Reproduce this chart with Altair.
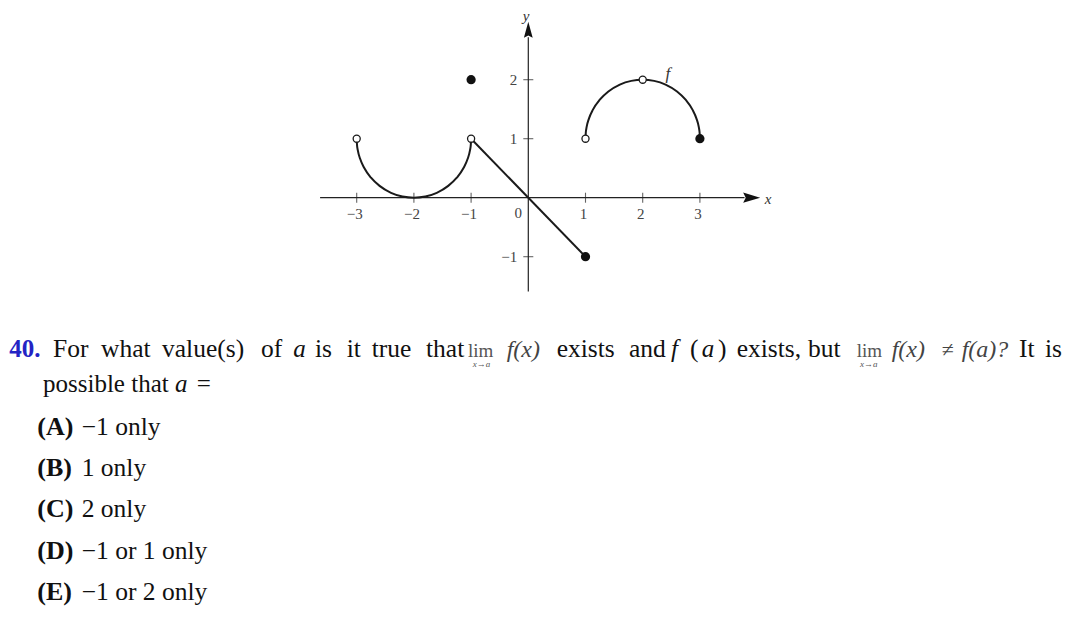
import altair as alt
import pandas as pd

# ---------------- graph data ----------------
arc1_x = [-3, -2.995, -2.98, -2.94, -2.87, -2.75, -2.6, -2.4, -2.2, -2.0,
          -1.8, -1.6, -1.4, -1.25, -1.13, -1.06, -1.02, -1.005, -1]
arc1_y = [1, 0.9, 0.801, 0.659, 0.507, 0.339, 0.2, 0.083, 0.02, 0,
          0.02, 0.083, 0.2, 0.339, 0.507, 0.659, 0.801, 0.9, 1]
arc2_x = [1, 1.005, 1.02, 1.06, 1.13, 1.25, 1.4, 1.6, 1.8, 2.0,
          2.2, 2.4, 2.6, 2.75, 2.87, 2.94, 2.98, 2.995, 3]
arc2_y = [1, 1.1, 1.199, 1.341, 1.493, 1.661, 1.8, 1.917, 1.98, 2,
          1.98, 1.917, 1.8, 1.661, 1.493, 1.341, 1.199, 1.1, 1]
seg_x = [-1, 1]
seg_y = [1, -1]
open_x = [-3, -1, 1, 2]
open_y = [1, 1, 1, 2]
closed_x = [-1, 1, 3]
closed_y = [2, -1, 1]
x_ticks = [-3, -2, -1, 1, 2, 3]
x_tick_labels = ["\u22123", "\u22122", "\u22121", "1", "2", "3"]
y_ticks = [-1, 1, 2]
y_tick_labels = ["\u22121", "1", "2"]
x_axis_ext = [-3.64, 3.78]
y_axis_ext = [-1.59, 2.72]

# ---------------- question text ----------------
q_number = "40."
line1_words = ["For", "what", "value(s)", "of", "is", "it", "true", "that",
               "exists", "and", "(", ")", "exists,", "but", "It", "is"]
line1_x = [53, 101, 162, 261, 315, 346.7, 371.7, 426,
           556.7, 629, 690, 718, 736.7, 808, 1019, 1045]
line1_italic = ["a", "f", "a"]
line1_italic_x = [293.3, 671, 701.7]
lim_x = [468, 856.7]
sub_x = [472.7, 860]
fx_words = ["f(x)", "f(x)", "f(a)?"]
fx_x = [506.7, 891.7, 961.7]
neq_x = [941.7]
line2_text = "possible that"
option_labels = ["(A)", "(B)", "(C)", "(D)", "(E)"]
option_texts = ["\u22121 only", "1 only", "2 only", "\u22121 or 1 only", "\u22121 or 2 only"]
option_baselines = [435, 475.5, 517.3, 559, 599.5]

# ---------------- geometry of the canvas ----------------
W, H = 1055, 603
UX, UY = 57.2, 59.0
X0, Y0 = 520.3, 189.7     # pixel position of the origin inside the chart
XMIN = -X0 / UX
XMAX = XMIN + W / UX
YMAX = Y0 / UY
YMIN = YMAX - H / UY
xs = alt.Scale(domain=[XMIN, XMAX], nice=False, zero=False)
ys = alt.Scale(domain=[YMIN, YMAX], nice=False, zero=False)
SERIF = "Liberation Serif"


def X(f="x"):
    return alt.X(f"{f}:Q", scale=xs, axis=None)


def Y(f="y"):
    return alt.Y(f"{f}:Q", scale=ys, axis=None)


# axes
axes_df = pd.DataFrame({
    "x": [x_axis_ext[0], 0], "x2": [x_axis_ext[1], 0],
    "y": [0, y_axis_ext[0]], "y2": [0, y_axis_ext[1]],
})
axes = alt.Chart(axes_df).mark_rule(color="#222", strokeWidth=1.2).encode(
    x=X(), x2="x2:Q", y=Y(), y2="y2:Q")

arrow_x = alt.Chart(pd.DataFrame({"x": [3.905], "y": [0]})).mark_point(
    shape="M-1,-0.6L1,0L-1,0.6L-0.7,0Z", size=289, filled=True,
    color="#111", opacity=1).encode(x=X(), y=Y())
arrow_y = alt.Chart(pd.DataFrame({"x": [0], "y": [2.846]})).mark_point(
    shape="M-0.55,1L0,-1L0.55,1L0,0.7Z", size=256, filled=True,
    color="#111", opacity=1).encode(x=X(), y=Y())

xt = alt.Chart(pd.DataFrame({"x": x_ticks, "y": [0] * len(x_ticks),
                             "t": x_tick_labels}))
xtick_marks = xt.mark_tick(orient="vertical", size=10, thickness=1.1,
                           color="#222").encode(x=X(), y=Y())
xtick_text = xt.mark_text(font=SERIF, fontSize=15, color="#444",
                          baseline="middle", align="center", dy=16,
                          dx=-2).encode(x=X(), y=Y(), text="t:N")
yt = alt.Chart(pd.DataFrame({"x": [0] * len(y_ticks), "y": y_ticks,
                             "t": y_tick_labels}))
ytick_marks = yt.mark_tick(orient="horizontal", size=10, thickness=1.1,
                           color="#222").encode(x=X(), y=Y())
ytick_text = yt.mark_text(font=SERIF, fontSize=15, color="#444",
                          baseline="middle", align="right", dx=-11).encode(
    x=X(), y=Y(), text="t:N")
zero_text = alt.Chart(pd.DataFrame({"x": [0], "y": [0], "t": ["0"]})).mark_text(
    font=SERIF, fontSize=15, color="#444", baseline="middle", align="center",
    dx=-10, dy=15).encode(x=X(), y=Y(), text="t:N")

axis_names = alt.Chart(pd.DataFrame({
    "x": [4.19, -0.04, 2.44], "y": [-0.02, 3.08, 2.10], "t": ["x", "y", "f"],
    "s": [15, 15, 17]})).mark_text(
    font=SERIF, fontStyle="italic", color="#333", baseline="middle",
    align="center").encode(x=X(), y=Y(), text="t:N",
                           size=alt.Size("s:Q", scale=None, legend=None))

# curves
rows = []
for piece, (px, py) in enumerate([(arc1_x, arc1_y), (seg_x, seg_y), (arc2_x, arc2_y)]):
    for i, (a, b) in enumerate(zip(px, py)):
        rows.append({"piece": piece, "i": i, "x": a, "y": b})
curves = alt.Chart(pd.DataFrame(rows)).mark_line(
    color="#1a1a1a", strokeWidth=2, interpolate="monotone").encode(
    x=X(), y=Y(), detail="piece:N", order="i:Q")

open_pts = alt.Chart(pd.DataFrame({"x": open_x, "y": open_y})).mark_point(
    shape="circle", size=50, filled=True, fill="white", stroke="#1a1a1a",
    strokeWidth=1.3, opacity=1).encode(x=X(), y=Y())
closed_pts = alt.Chart(pd.DataFrame({"x": closed_x, "y": closed_y})).mark_point(
    shape="circle", size=85, filled=True, color="#111", opacity=1).encode(
    x=X(), y=Y())


# ---------------- text (pixel placed) ----------------
def text_layer(texts, xs_px, ys_px, **mark):
    df = pd.DataFrame({"t": texts, "px": [v - 8 for v in xs_px],
                       "py": [v - 8 for v in ys_px]})
    base = dict(font=SERIF, align="left", baseline="alphabetic")
    base.update(mark)
    return alt.Chart(df).mark_text(**base).encode(
        x=alt.X("px:Q", scale=None, axis=None),
        y=alt.Y("py:Q", scale=None, axis=None),
        text="t:N")


B1, B2 = 357, 391.7
t_num = text_layer([q_number], [40.5], [B1], fontSize=25, fontWeight="bold",
                   color="#2424c4", align="right")
t_l1 = text_layer(line1_words, line1_x, [B1] * len(line1_words),
                  fontSize=25.5, color="#111")
t_l1i = text_layer(line1_italic, line1_italic_x, [B1] * 3, fontSize=25,
                   fontStyle="italic", color="#111")
t_lim = text_layer(["lim", "lim"], lim_x, [B1, B1], fontSize=19, color="#555")
t_sub = text_layer(["x\u2192a", "x\u2192a"], sub_x, [367, 367], fontSize=9,
                   fontStyle="italic", color="#555")
t_fx = text_layer(fx_words, fx_x, [B1] * 3, fontSize=24, fontStyle="italic",
                  color="#444")
t_neq = text_layer(["\u2260"], neq_x, [B1], fontSize=22, color="#444")
t_l2 = text_layer([line2_text, "="], [43, 196.7], [B2, B2], fontSize=25,
                  color="#111")
t_l2i = text_layer(["a"], [175], [B2], fontSize=25, fontStyle="italic",
                   color="#111")
t_optl = text_layer(option_labels, [37.3] * 5, option_baselines, fontSize=26,
                    fontWeight="bold", color="#111")
t_optt = text_layer(option_texts, [81.7] * 5, option_baselines, fontSize=25.5,
                    color="#111")

chart = alt.layer(
    axes, arrow_x, arrow_y, xtick_marks, ytick_marks, xtick_text, ytick_text,
    zero_text, axis_names, curves, open_pts, closed_pts,
    t_num, t_l1, t_l1i, t_lim, t_sub, t_fx, t_neq, t_l2, t_l2i, t_optl, t_optt,
).properties(
    width=W, height=H, padding=0, autosize=alt.AutoSizeParams(type="none"),
    background="white",
).configure_view(stroke=None)

chart.save("out.html", embed_options={"renderer": "svg", "actions": False})
